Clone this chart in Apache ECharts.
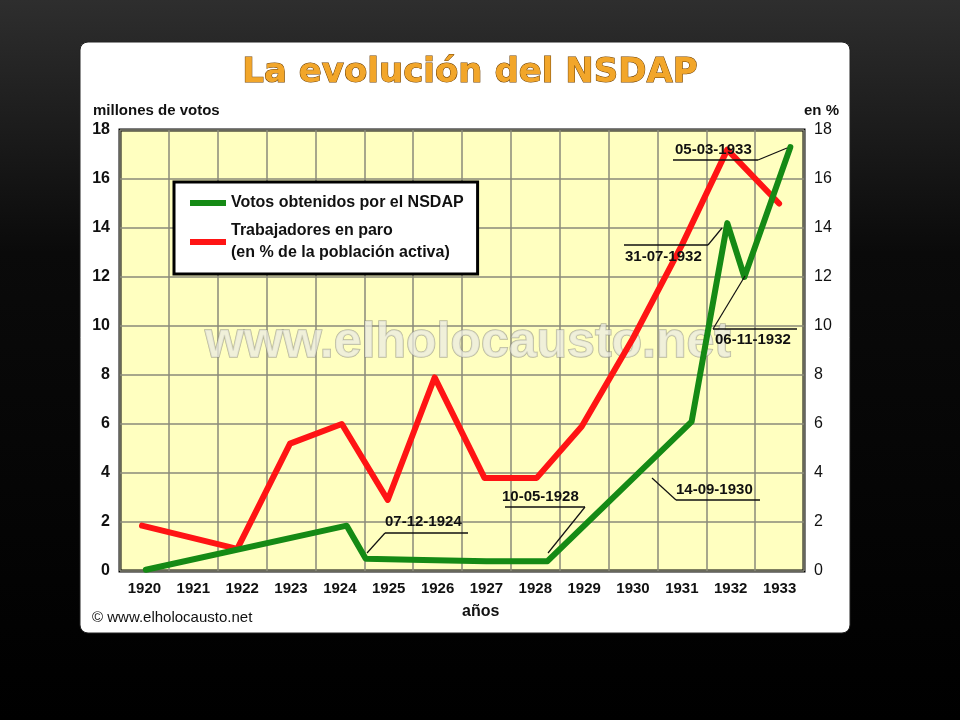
<!DOCTYPE html>
<html>
<head>
<meta charset="utf-8">
<script src="https://cdn.jsdelivr.net/npm/echarts@6/dist/echarts.min.js"></script>
<style>
  html, body { margin: 0; padding: 0; background: #000; }
  #chart { width: 960px; height: 720px; }
</style>
</head>
<body>
<div id="chart"></div>
<script>
// Datos
const years = ['1920', '1921', '1922', '1923', '1924', '1925', '1926', '1927', '1928', '1929', '1930', '1931', '1932', '1933'];
const yTicks = [0, 2, 4, 6, 8, 10, 12, 14, 16, 18];

// votos NSDAP (millones) - [posición en años, valor]
const votosNSDAP = [
    [1920.03, 0.05], [1924.14, 1.85], [1924.53, 0.5], [1925.7, 0.45], [1927.0, 0.4],
    [1928.25, 0.4], [1931.2, 6.1], [1931.93, 14.2], [1932.28, 12.0], [1933.22, 17.3]
];
// paro (% población activa)
const paro = [
    [1919.95, 1.85], [1921.9, 0.9], [1922.98, 5.2], [1924.04, 6.0], [1924.98, 2.9],
    [1925.94, 7.9], [1926.96, 3.8], [1928.03, 3.8], [1928.95, 5.9], [1930.0, 9.5],
    [1931.0, 13.3], [1931.93, 17.2], [1932.99, 15.0]
];

const colors = {
    green: '#158a15',
    red: '#ff1414',
    plot: '#ffffc0',
    grid: '#8a8a7a'
};

const font = '"Liberation Sans", Arial, sans-serif';

const chart = echarts.init(document.getElementById('chart'));

// etiqueta con línea guía
function note(text, tx, ty, lineY, x1, x2, lx, ly) {
    const end = Math.abs(lx - x1) < Math.abs(lx - x2) ? x1 : x2;
    return [
        { type: 'text', z: 20, style: { text: text, x: tx, y: ty, font: 'bold 15px ' + font, fill: '#111' } },
        { type: 'line', z: 20, shape: { x1: x1, y1: lineY, x2: x2, y2: lineY }, style: { stroke: '#111', lineWidth: 1.5 } },
        { type: 'line', z: 20, shape: { x1: end, y1: lineY, x2: lx, y2: ly }, style: { stroke: '#111', lineWidth: 1.2 } }
    ];
}

const option = {
    backgroundColor: new echarts.graphic.LinearGradient(0, 0, 0, 1, [
        { offset: 0, color: '#2e2e2e' },
        { offset: 0.35, color: '#0a0a0a' },
        { offset: 1, color: '#000' }
    ]),
    animation: false,
    graphic: [
        { type: 'rect', z: -10, shape: { x: 80, y: 42, width: 770, height: 591, r: 8 }, style: { fill: '#fff', stroke: '#222', lineWidth: 1 } },
        { type: 'text', z: 5, style: { text: 'La evolución del NSDAP', x: 470, y: 73, align: 'center', verticalAlign: 'middle',
            font: 'bold 34px "DejaVu Sans", sans-serif',
            fill: '#f2a62a',
            stroke: '#6a3c00', lineWidth: 1, shadowColor: '#444', shadowOffsetX: 2, shadowOffsetY: 2, shadowBlur: 1 } },
        { type: 'text', style: { text: 'millones de votos', x: 93, y: 103, font: 'bold 15px ' + font, fill: '#111' } },
        { type: 'text', style: { text: 'en %', x: 804, y: 103, font: 'bold 15px ' + font, fill: '#111' } },
        { type: 'text', style: { text: 'años', x: 462, y: 604, font: 'bold 16px ' + font, fill: '#111' } },
        { type: 'text', style: { text: '© www.elholocausto.net', x: 92, y: 610, font: '15px ' + font, fill: '#111' } },
        { type: 'text', z: 3, style: { text: 'www.elholocausto.net', x: 468, y: 343, align: 'center', verticalAlign: 'middle',
            font: 'bold 50px ' + font, fill: 'rgba(235,235,225,0.75)', stroke: 'rgba(140,140,130,0.6)', lineWidth: 1.5 } },
        ...note('07-12-1924', 385, 514, 533, 385, 468, 367, 553),
        ...note('10-05-1928', 502, 489, 507, 505, 585, 548, 553),
        ...note('14-09-1930', 676, 482, 500, 676, 760, 652, 478),
        ...note('31-07-1932', 625, 249, 245, 624, 708, 722, 228),
        ...note('05-03-1933', 675, 142, 160, 673, 758, 787, 148),
        ...note('06-11-1932', 715, 332, 329, 713, 797, 745, 276)
    ],
    grid: {
        left: 120, right: 156, top: 130, bottom: 149,
        show: true,
        backgroundColor: colors.plot,
        borderColor: '#000',
        borderWidth: 3
    },
    legend: {
        orient: 'vertical',
        left: 174, top: 182,
        width: 336,
        padding: [10, 14, 10, 16],
        itemGap: 6,
        itemWidth: 36,
        itemHeight: 6,
        icon: 'rect',
        backgroundColor: '#fff',
        borderColor: '#000',
        borderWidth: 3,
        textStyle: { fontFamily: font, fontSize: 16, fontWeight: 'bold', color: '#111', lineHeight: 22 },
        data: ['Votos obtenidos por el NSDAP', 'Trabajadores en paro\n(en % de la población activa)']
    },
    xAxis: [
        {
            type: 'category',
            data: years,
            boundaryGap: true,
            axisLine: { show: false },
            axisTick: { show: false },
            axisLabel: { fontFamily: font, fontSize: 15, fontWeight: 'bold', color: '#111', margin: 10 },
            splitLine: { show: true, lineStyle: { color: colors.grid, width: 1.5 } }
        },
        {
            type: 'value',
            min: 1919.5, max: 1933.5,
            show: false
        }
    ],
    yAxis: [
        {
            type: 'value', min: 0, max: 18, interval: 2,
            axisLine: { show: false }, axisTick: { show: false },
            axisLabel: { fontFamily: font, fontSize: 16, fontWeight: 'bold', color: '#111', margin: 10,
                formatter: v => yTicks.includes(v) ? String(v) : '' },
            splitLine: { show: true, lineStyle: { color: colors.grid, width: 1.5 } }
        },
        {
            type: 'value', min: 0, max: 18, interval: 2, position: 'right',
            axisLine: { show: false }, axisTick: { show: false },
            axisLabel: { fontFamily: font, fontSize: 16, color: '#111', margin: 10 },
            splitLine: { show: false }
        }
    ],
    series: [
        {
            name: 'Trabajadores en paro\n(en % de la población activa)',
            type: 'line', xAxisIndex: 1, yAxisIndex: 1,
            data: paro, symbol: 'none', z: 4,
            itemStyle: { color: colors.red },
            lineStyle: { color: colors.red, width: 6, cap: 'round', join: 'round' }
        },
        {
            name: 'Votos obtenidos por el NSDAP',
            type: 'line', xAxisIndex: 1, yAxisIndex: 0,
            data: votosNSDAP, symbol: 'none', z: 5,
            itemStyle: { color: colors.green },
            lineStyle: { color: colors.green, width: 6, cap: 'round', join: 'round' }
        }
    ]
};

chart.setOption(option);
</script>
</body>
</html>
